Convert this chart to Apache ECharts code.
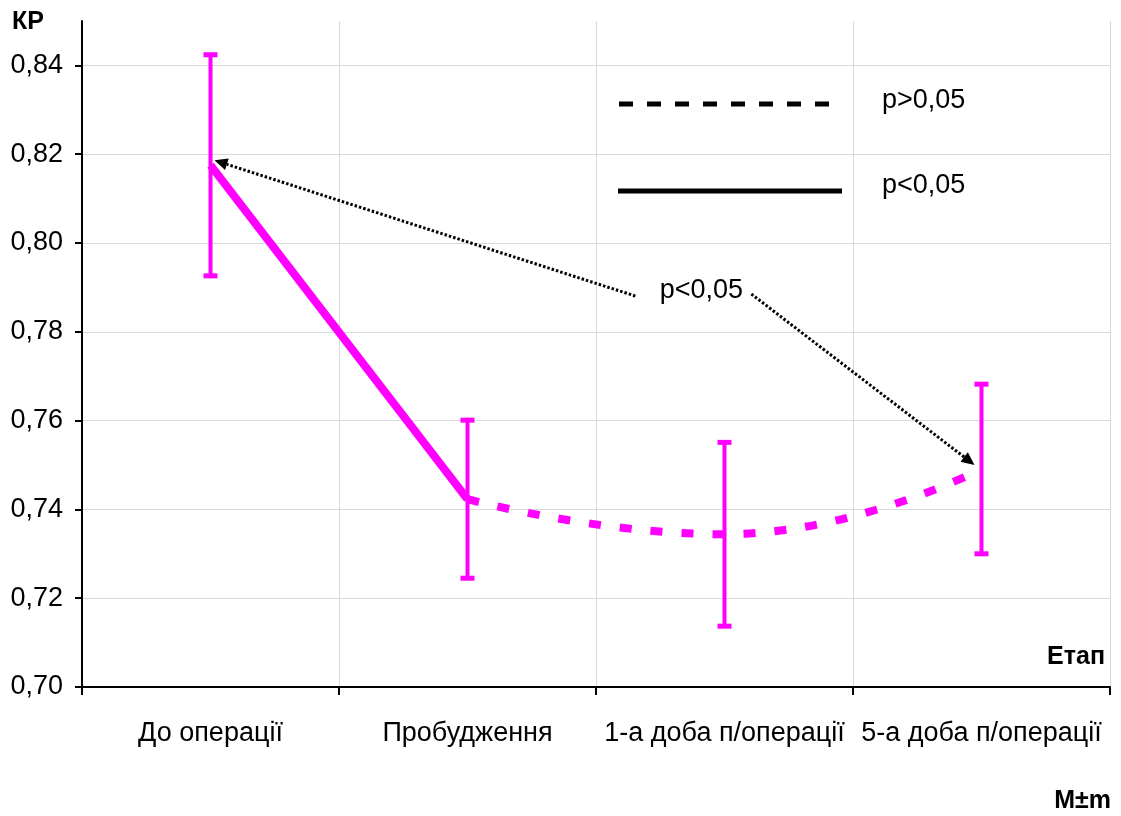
<!DOCTYPE html>
<html>
<head>
<meta charset="utf-8">
<script src="https://cdn.jsdelivr.net/npm/echarts@6/dist/echarts.min.js"></script>
<style>
  html, body { margin: 0; padding: 0; background: #fff; }
  #chart { width: 1121px; height: 816px; }
</style>
</head>
<body>
<div id="chart"></div>
<script>
// стадії та дані (M ± m)
const stages = ['До операції', 'Пробудження', '1-а доба п/операції', '5-а доба п/операції'];
const means = [0.8175, 0.7423, 0.7344, 0.7491];
const errs = [0.0249, 0.0178, 0.0207, 0.0191];
const yTicks = [0.70, 0.72, 0.74, 0.76, 0.78, 0.80, 0.82, 0.84];

const FONT = '"Liberation Sans", Arial, sans-serif';
const PINK = '#ff00ff';

const solidData = means.map((v, i) => (i <= 1 ? v : '-'));
const dashData = means.map((v, i) => (i >= 1 ? v : '-'));
const errData = means.map((v, i) => [i, v - errs[i], v + errs[i]]);

const chart = echarts.init(document.getElementById('chart'));

const option = {
  animation: false,
  backgroundColor: '#fff',
  grid: { left: 82, right: 11, top: 21, bottom: 129 },
  xAxis: {
    type: 'category',
    data: stages,
    boundaryGap: true,
    axisLine: { lineStyle: { color: '#000', width: 2 } },
    axisTick: { show: true, length: 8, interval: 0, lineStyle: { color: '#000', width: 2 } },
    axisLabel: { interval: 0, color: '#000', fontFamily: FONT, fontSize: 27, margin: 33 },
    splitLine: { show: true, interval: 0, lineStyle: { color: '#d9d9d9', width: 1 } }
  },
  yAxis: {
    type: 'value',
    min: 0.70,
    max: 0.85,
    interval: 0.02,
    axisLine: { show: true, lineStyle: { color: '#000', width: 2 } },
    axisTick: { show: true, length: 7, customValues: yTicks, lineStyle: { color: '#000', width: 2 } },
    axisLabel: {
      customValues: yTicks,
      color: '#000', fontFamily: FONT, fontSize: 27, margin: 19,
      formatter: v => v.toFixed(2).replace('.', ',')
    },
    splitLine: { show: true, lineStyle: { color: '#d9d9d9', width: 1 } }
  },
  series: [
    {
      name: 'p<0,05',
      type: 'line',
      data: solidData,
      symbol: 'none',
      lineStyle: { color: PINK, width: 8 },
      z: 3
    },
    {
      name: 'p>0,05',
      type: 'line',
      data: dashData,
      smooth: 0.5,
      symbol: 'none',
      lineStyle: { color: PINK, width: 8, type: [12, 19], cap: 'butt' },
      z: 3
    },
    {
      name: 'M±m',
      type: 'custom',
      data: errData,
      z: 4,
      renderItem: (params, api) => {
        const lo = api.coord([api.value(0), api.value(1)]);
        const hi = api.coord([api.value(0), api.value(2)]);
        const capW = 7;
        const cap = { stroke: PINK, lineWidth: 5 };
        return {
          type: 'group',
          children: [
            { type: 'line', shape: { x1: hi[0], y1: hi[1], x2: lo[0], y2: lo[1] }, style: { stroke: PINK, lineWidth: 4 } },
            { type: 'line', shape: { x1: hi[0] - capW, y1: hi[1], x2: hi[0] + capW, y2: hi[1] }, style: cap },
            { type: 'line', shape: { x1: lo[0] - capW, y1: lo[1], x2: lo[0] + capW, y2: lo[1] }, style: cap }
          ]
        };
      }
    }
  ]
};

chart.setOption(option);

// анотації: стрілки p<0,05 між першою і останньою точкою
function arrowParts(from, to) {
  const dx = to[0] - from[0], dy = to[1] - from[1];
  const len = Math.sqrt(dx * dx + dy * dy);
  const ux = dx / len, uy = dy / len;
  const head = 13, half = 6;
  const base = [to[0] - ux * head, to[1] - uy * head];
  return [
    {
      type: 'line',
      shape: { x1: from[0], y1: from[1], x2: base[0], y2: base[1] },
      style: { stroke: '#000', lineWidth: 3, lineDash: [2.5, 2] }
    },
    {
      type: 'polygon',
      shape: { points: [to, [base[0] - uy * half, base[1] + ux * half], [base[0] + uy * half, base[1] - ux * half]] },
      style: { fill: '#000' }
    }
  ];
}

const pFirst = chart.convertToPixel({ gridIndex: 0 }, [0, means[0]]);
const pLast = chart.convertToPixel({ gridIndex: 0 }, [3, means[3]]);
const c1 = chart.convertToPixel({ gridIndex: 0 }, [1, 0.7894]);
const c2 = chart.convertToPixel({ gridIndex: 0 }, [2, 0.7894]);
const step = c2[0] - c1[0];
const textX = c1[0] + step * 0.91;
const txtY = c1[1];

const graphic = [
  { type: 'text', left: 12, top: 10, style: { text: 'КР', font: 'bold 25px ' + FONT, fill: '#000' } },
  { type: 'text', right: 16, top: 645, style: { text: 'Етап', font: 'bold 25px ' + FONT, fill: '#000' } },
  { type: 'text', right: 10, top: 789, style: { text: 'M±m', font: 'bold 25px ' + FONT, fill: '#000' } },
  // легенда
  { type: 'line', shape: { x1: 619, y1: 104, x2: 833, y2: 104 }, style: { stroke: '#000', lineWidth: 5, lineDash: [14, 14] } },
  { type: 'line', shape: { x1: 618, y1: 191, x2: 842, y2: 191 }, style: { stroke: '#000', lineWidth: 5 } },
  { type: 'text', left: 882, top: 87, style: { text: 'p>0,05', font: '27px ' + FONT, fill: '#000' } },
  { type: 'text', left: 882, top: 172, style: { text: 'p<0,05', font: '27px ' + FONT, fill: '#000' } },
  { type: 'text', x: textX, y: txtY, style: { text: 'p<0,05', font: '27px ' + FONT, fill: '#000', align: 'center', verticalAlign: 'middle' } }
];
graphic.push(...arrowParts([textX - 66, txtY + 6], [pFirst[0] + 4, pFirst[1] - 5]));
graphic.push(...arrowParts([textX + 50, txtY + 4], [pLast[0] - 7, pLast[1] - 4]));

chart.setOption({ graphic: graphic });
</script>
</body>
</html>
